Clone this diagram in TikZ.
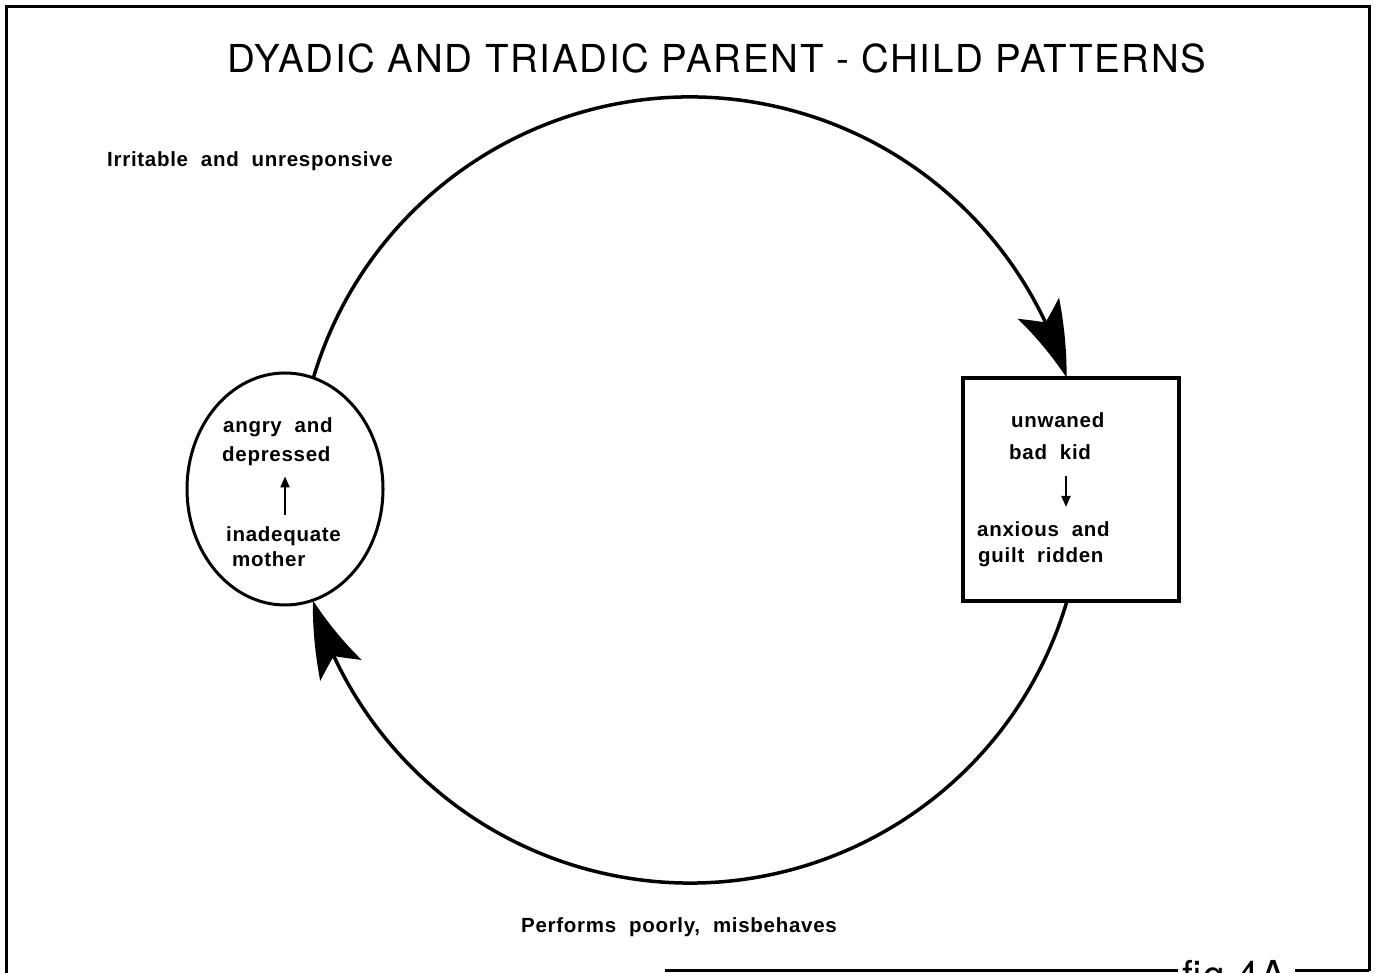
\documentclass[tikz,border=0pt]{standalone}
\usepackage{fontspec}
\setmainfont{Liberation Sans}
\newfontfamily\lblfont{Liberation Sans}[LetterSpace=3.5,WordSpace=2]
\newfontfamily\headfont{TeX Gyre Heros}[LetterSpace=4.5]
\usetikzlibrary{arrows.meta,bending,shapes.geometric,calc}

\begin{document}
\begin{tikzpicture}[x=1pt,y=1pt,
  frameline/.style={line width=3pt},
  loopline/.style={line width=3.5pt,-{Stealth[length=76pt,width=46pt,inset=16pt,bend]}},
  txt/.style={font=\lblfont\bfseries\fontsize{20.5}{24}\selectfont,inner sep=0pt,anchor=base west},
  headtxt/.style={font=\headfont\fontsize{38.5}{46}\selectfont,inner sep=0pt},
  smallarrow/.style={line width=2pt,-{Triangle[length=11pt,width=9pt]}}
]
\useasboundingbox (0,0) rectangle (1378,973);

% outer frame, bottom edge broken by the figure number
\draw[frameline] (6,0) -- (6,966) -- (1369,966) -- (1369,2);
\draw[frameline] (665,2) -- (1178,2);
\draw[frameline] (1295,2) -- (1369,2);
\node[headtxt,anchor=base west] (fig) at (1182,-16) {fig 4A};

% title
\node[headtxt,anchor=base] (title) at (717,900) {DYADIC AND TRIADIC PARENT - CHILD PATTERNS};

% mother (circle) and child (box)
\node[draw,ellipse,line width=3pt,minimum width=196pt,minimum height=232pt,inner sep=0pt] (mother) at (285,484) {};
\node[draw,rectangle,line width=4pt,minimum width=216pt,minimum height=223pt,inner sep=0pt] (kid) at (1071,483.5) {};

% texts inside the circle
\node[txt] (angry) at (223,540) {angry and};
\node[txt] (depr) at (222,511) {depressed};
\node[txt] (inad) at (226,431) {inadequate};
\node[txt] (moth) at (232,406) {mother};
\draw[smallarrow] ($(inad.north -| mother.center)+(0,12)$) -- ($(depr.south -| mother.center)+(0,-10)$);

% texts inside the box
\coordinate (kx) at (1066,0);
\node[txt] (unw) at (1011,545) {unwaned};
\node[txt] (bad) at (1009,513) {bad kid};
\node[txt] (anx) at (977,436) {anxious and};
\node[txt] (guilt) at (978,410) {guilt ridden};
\draw[smallarrow] ($(bad.south -| kx)+(0,-16)$) -- ($(anx.north -| kx)+(0,15)$);

% the big loop between mother and child
\coordinate (c) at (690,483);
\coordinate (mtop) at ($(c)+(163.4:393)$);
\coordinate (kbot) at ($(c)+(-16.5:393)$);
\draw[loopline] (mtop) arc[start angle=163.4,end angle=16.6,radius=393];
\draw[loopline] (kbot) arc[start angle=-16.5,end angle=-163.7,radius=393];

% loop labels
\node[txt] (irr) at (107,806) {Irritable and unresponsive};
\node[txt] (perf) at (521,40) {Performs poorly, misbehaves};
\end{tikzpicture}
\end{document}
